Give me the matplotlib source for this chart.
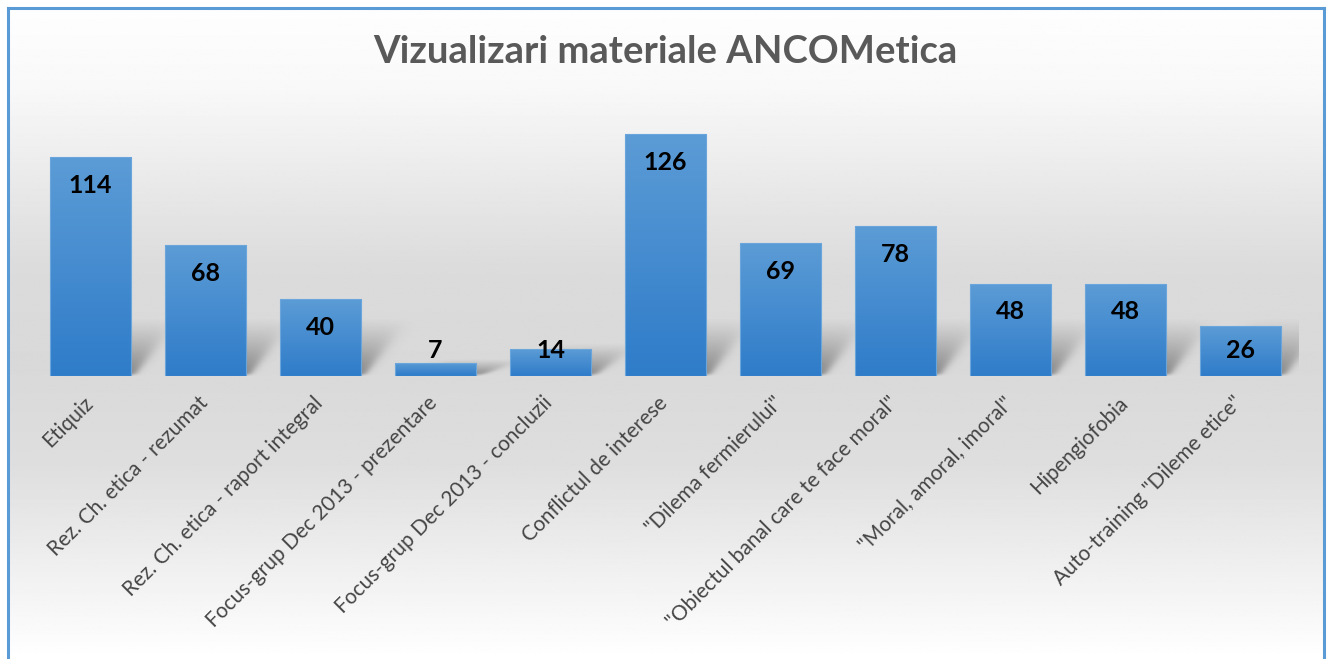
import numpy as np
import matplotlib.pyplot as plt
import matplotlib.colors as mcolors
from matplotlib.transforms import ScaledTranslation

plt.rcParams['font.family'] = ['Lato', 'DejaVu Sans']

# data
categories = ['Etiquiz', 'Rez. Ch. etica - rezumat', 'Rez. Ch. etica - raport integral',
              'Focus-grup Dec 2013 - prezentare', 'Focus-grup Dec 2013 - concluzii',
              'Conflictul de interese', '"Dilema fermierului"',
              '"Obiectul banal care te face moral"', '"Moral, amoral, imoral"',
              'Hipengiofobia', 'Auto-training "Dileme etice"']
views = [114, 68, 40, 7, 14, 126, 69, 78, 48, 48, 26]
title = 'Vizualizari materiale ANCOMetica'

W, H = 1330, 659
fig = plt.figure(figsize=(W / 100, H / 100), dpi=100)
fig.patch.set_facecolor('white')

# chart area background: white -> light gray -> white
bg = fig.add_axes([8 / W, 0, (1324 - 8) / W, 1 - 8 / H], zorder=0)
stops_y = [0.0, 0.12, 0.40, 0.55, 0.70, 1.0]   # from top
stops_c = [0.995, 0.975, 0.86, 0.85, 0.87, 1.0]
yy = np.linspace(0, 1, 400)
col = np.interp(yy, stops_y, stops_c)
bg.imshow(np.repeat(col[:, None], 2, axis=1), cmap='gray', vmin=0, vmax=1,
          aspect='auto', extent=[0, 1, 1, 0])
bg.set_xlim(0, 1)
bg.set_ylim(1, 0)
bg.axis('off')

# border (blue, top/left/right)
for xs, ys in [([8, 1324], [H - 8, H - 8]), ([8, 8], [0, H - 8]), ([1324, 1324], [0, H - 8])]:
    fig.add_artist(plt.Line2D(np.array(xs) / W, np.array(ys) / H, color='#5b9bd5', lw=2.2))

ax = fig.add_axes([33 / W, 1 - 376 / H, 1265 / W, 140 * 1.921 / H], zorder=1)
ax.patch.set_alpha(0)
x = np.arange(len(views))
bw = 0.71

bars = ax.bar(x, views, width=bw, color='none', edgecolor='#6aa5dc', lw=0.8, zorder=3)

# soft perspective shadows behind the bars
def soft(u, s):
    return 0.5 * (1 + np.tanh(u / s))

for xi, v in zip(x, views):
    hs = min(v * 1.2, 30)
    x0, x1 = xi - bw / 2, xi + bw / 2
    gx = np.linspace(x0, x1 + 0.7, 200)
    gy = np.linspace(0, hs, 100)
    X, Y = np.meshgrid(gx, gy)
    t = Y / hs
    shift = 0.36 * t
    blur = 0.035 + 0.07 * t
    win = soft(X - (x0 + 0.1 + shift), blur) * soft((x1 + 0.02 + shift) - X, blur)
    a = 0.62 * win * (1 - t) ** 1.1 * soft(Y - 0.6, 0.8)
    rgba = np.zeros(X.shape + (4,))
    rgba[..., :3] = 0.3
    rgba[..., 3] = a
    ax.imshow(rgba, extent=[gx[0], gx[-1], 0, hs], origin='lower',
              aspect='auto', zorder=2, interpolation='bilinear')

# gradient fill for bars
grad = np.linspace(0, 1, 256)[:, None]
bar_cmap = mcolors.LinearSegmentedColormap.from_list('b', ['#5c9cd6', '#2f7cc9'])
for b in bars:
    x0, y0 = b.get_x(), b.get_y()
    im = ax.imshow(grad, cmap=bar_cmap, aspect='auto', zorder=2.5,
                   extent=[x0, x0 + b.get_width(), y0, y0 + b.get_height()],
                   origin='upper')
    im.set_clip_path(b)
ax.set_xlim(-0.5, len(views) - 0.5)
ax.set_ylim(0, 140)

# value labels (inside end)
for xi, v in zip(x, views):
    ax.text(xi, max(v - 14.6, 13.5), str(v), ha='center', va='center',
            fontsize=18, fontweight='bold', color='black', zorder=4)

ax.set_xticks(x)
ax.set_xticklabels(categories, rotation=45, ha='right', rotation_mode='anchor',
                   fontsize=15, color='#454545')
ax.tick_params(axis='x', length=0, pad=12)
shift_left = ScaledTranslation(-8 / 100, 0, fig.dpi_scale_trans)
for lab in ax.get_xticklabels():
    lab.set_transform(lab.get_transform() + shift_left)
ax.set_yticks([])
for s in ax.spines.values():
    s.set_visible(False)

fig.text(0.5, 1 - 52 / H, title, ha='center', va='center', fontsize=27.5,
         fontweight='bold', color='#595959')

fig.savefig('out.png', dpi=100)
